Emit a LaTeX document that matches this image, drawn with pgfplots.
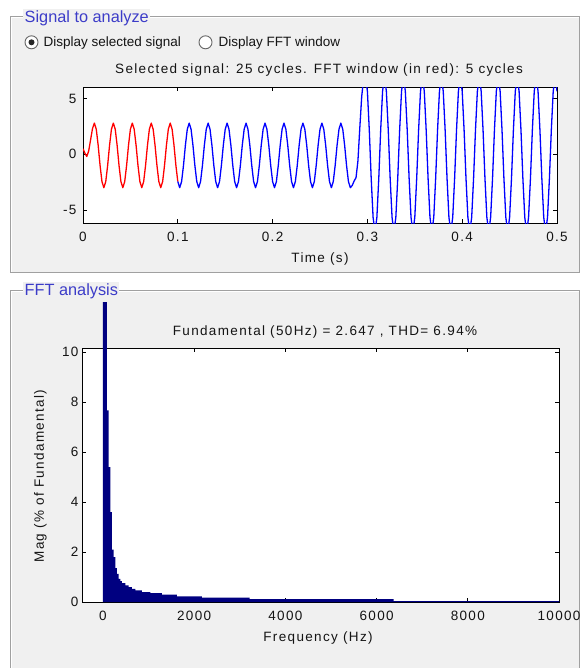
\documentclass[border=0pt]{standalone}
\usepackage{fontspec}
\setmainfont{Liberation Sans}
\newfontfamily\axfont[LetterSpace=10]{Liberation Sans}
\usepackage{pgfplots}
\pgfplotsset{compat=1.18}

\definecolor{panelbg}{RGB}{240,240,240}
\definecolor{framegray}{RGB}{160,160,160}
\definecolor{titleblue}{RGB}{60,60,200}
\definecolor{fftnavy}{RGB}{0,0,128}
\definecolor{txt}{RGB}{20,20,20}
\newcommand\axtext{\fontsize{13.5}{16}\selectfont\axfont}

\begin{document}
\begin{tikzpicture}
\path[use as bounding box] (0pt,0pt) rectangle (581pt,-668pt);

% window background and the two panels (coordinates in screen pixels)
\begin{scope}[x=1pt,y=-1pt]
\fill[white] (0,0) rectangle (581,668);
\fill[panelbg] (10,17) rectangle (579,272);
\draw[white, line width=1pt] (11,18) rectangle (580,273);
\draw[framegray, line width=1pt] (10,17) rectangle (579,272);
\clip (0,0) rectangle (581,668);
\fill[panelbg] (10,290) rectangle (579,700);
\draw[white, line width=1pt] (11,291) rectangle (580,701);
\draw[framegray, line width=1pt] (10,290) rectangle (579,700);
\end{scope}

% ---- signal to analyze ----
\begin{axis}[
  at={(83pt,-223.3pt)}, anchor=south west,
  scale only axis, width=474pt, height=135.8pt,
  xmin=0, xmax=0.5, ymin=-6.2, ymax=6.0,
  xtick={0,0.1,0.2,0.3,0.4,0.5}, xticklabels={0,0.1,0.2,0.3,0.4,0.5},
  ytick={-5,0,5}, yticklabels={-5,0,5},
  tick align=inside, major tick length=4pt,
  tick style={black, line width=0.8pt},
  axis line style={black, line width=1pt},
  ticklabel style={font=\axtext, text=txt},
  xticklabel style={anchor=base, yshift=-18.4pt},
  yticklabel style={xshift=-3pt},
  axis background/.style={fill=white},
]
% FFT window, first 5 cycles
\addplot[red, line width=1.3pt, line join=round] coordinates {
(0.000,0.5)(0.002,0.1)(0.004,-0.2)(0.006,0.3)(0.008,1.3)(0.010,2.3)
(0.012,2.8)(0.014,2.25)(0.016,0.8)(0.018,-1.0)(0.020,-2.45)
(0.022,-3.0)(0.024,-2.45)(0.026,-1.0)(0.028,0.8)(0.030,2.25)
(0.032,2.8)(0.034,2.25)(0.036,0.8)(0.038,-1.0)(0.040,-2.45)
(0.042,-3.0)(0.044,-2.45)(0.046,-1.0)(0.048,0.8)(0.050,2.25)
(0.052,2.8)(0.054,2.25)(0.056,0.8)(0.058,-1.0)(0.060,-2.45)
(0.062,-3.0)(0.064,-2.45)(0.066,-1.0)(0.068,0.8)(0.070,2.25)
(0.072,2.8)(0.074,2.25)(0.076,0.8)(0.078,-1.0)(0.080,-2.45)
(0.082,-3.0)(0.084,-2.45)(0.086,-1.0)(0.088,0.8)(0.090,2.25)
(0.092,2.8)(0.094,2.25)(0.096,0.8)(0.098,-1.0)(0.100,-2.45)
};
% rest of the selected signal
\addplot[blue, line width=1.3pt, line join=round] coordinates {
(0.100,-2.45)
(0.102,-3.0)(0.104,-2.45)(0.106,-1.0)(0.108,0.8)(0.110,2.25)(0.112,2.8)(0.114,2.25)(0.116,0.8)(0.118,-1.0)(0.120,-2.45)
(0.122,-3.0)(0.124,-2.45)(0.126,-1.0)(0.128,0.8)(0.130,2.25)(0.132,2.8)(0.134,2.25)(0.136,0.8)(0.138,-1.0)(0.140,-2.45)
(0.142,-3.0)(0.144,-2.45)(0.146,-1.0)(0.148,0.8)(0.150,2.25)(0.152,2.8)(0.154,2.25)(0.156,0.8)(0.158,-1.0)(0.160,-2.45)
(0.162,-3.0)(0.164,-2.45)(0.166,-1.0)(0.168,0.8)(0.170,2.25)(0.172,2.8)(0.174,2.25)(0.176,0.8)(0.178,-1.0)(0.180,-2.45)
(0.182,-3.0)(0.184,-2.45)(0.186,-1.0)(0.188,0.8)(0.190,2.25)(0.192,2.8)(0.194,2.25)(0.196,0.8)(0.198,-1.0)(0.200,-2.45)
(0.202,-3.0)(0.204,-2.45)(0.206,-1.0)(0.208,0.8)(0.210,2.25)(0.212,2.8)(0.214,2.25)(0.216,0.8)(0.218,-1.0)(0.220,-2.45)
(0.222,-3.0)(0.224,-2.45)(0.226,-1.0)(0.228,0.8)(0.230,2.25)(0.232,2.8)(0.234,2.25)(0.236,0.8)(0.238,-1.0)(0.240,-2.45)
(0.242,-3.0)(0.244,-2.45)(0.246,-1.0)(0.248,0.8)(0.250,2.25)(0.252,2.8)(0.254,2.25)(0.256,0.8)(0.258,-1.0)(0.260,-2.45)
(0.262,-3.0)(0.264,-2.45)(0.266,-1.0)(0.268,0.8)(0.270,2.25)(0.272,2.8)(0.274,2.25)(0.276,0.8)(0.278,-1.0)(0.280,-2.45)
(0.282,-3.0)(0.284,-2.8)(0.286,-2.4)(0.288,-2.1)(0.290,-0.6)(0.292,2.4)(0.294,5.2)(0.296,6.8)
(0.298,7.0)(0.300,5.66)(0.302,2.16)(0.304,-2.16)(0.306,-5.66)(0.308,-7.0)(0.310,-5.66)(0.312,-2.16)(0.314,2.16)(0.316,5.66)
(0.318,7.0)(0.320,5.66)(0.322,2.16)(0.324,-2.16)(0.326,-5.66)(0.328,-7.0)(0.330,-5.66)(0.332,-2.16)(0.334,2.16)(0.336,5.66)
(0.338,7.0)(0.340,5.66)(0.342,2.16)(0.344,-2.16)(0.346,-5.66)(0.348,-7.0)(0.350,-5.66)(0.352,-2.16)(0.354,2.16)(0.356,5.66)
(0.358,7.0)(0.360,5.66)(0.362,2.16)(0.364,-2.16)(0.366,-5.66)(0.368,-7.0)(0.370,-5.66)(0.372,-2.16)(0.374,2.16)(0.376,5.66)
(0.378,7.0)(0.380,5.66)(0.382,2.16)(0.384,-2.16)(0.386,-5.66)(0.388,-7.0)(0.390,-5.66)(0.392,-2.16)(0.394,2.16)(0.396,5.66)
(0.398,7.0)(0.400,5.66)(0.402,2.16)(0.404,-2.16)(0.406,-5.66)(0.408,-7.0)(0.410,-5.66)(0.412,-2.16)(0.414,2.16)(0.416,5.66)
(0.418,7.0)(0.420,5.66)(0.422,2.16)(0.424,-2.16)(0.426,-5.66)(0.428,-7.0)(0.430,-5.66)(0.432,-2.16)(0.434,2.16)(0.436,5.66)
(0.438,7.0)(0.440,5.66)(0.442,2.16)(0.444,-2.16)(0.446,-5.66)(0.448,-7.0)(0.450,-5.66)(0.452,-2.16)(0.454,2.16)(0.456,5.66)
(0.458,7.0)(0.460,5.66)(0.462,2.16)(0.464,-2.16)(0.466,-5.66)(0.468,-7.0)(0.470,-5.66)(0.472,-2.16)(0.474,2.16)(0.476,5.66)
(0.478,7.0)(0.480,5.66)(0.482,2.16)(0.484,-2.16)(0.486,-5.66)(0.488,-7.0)(0.490,-5.66)(0.492,-2.16)(0.494,2.16)(0.496,5.66)
(0.498,7.0)(0.500,5.66)
};
\end{axis}

% ---- FFT analysis ----
\begin{axis}[
  at={(82pt,-602pt)}, anchor=south west,
  scale only axis, width=477pt, height=254pt,
  xmin=-460, xmax=10000, ymin=0, ymax=10.16,
  scaled x ticks=false, scaled y ticks=false,
  xtick={0,2000,4000,6000,8000,10000}, xticklabels={0,2000,4000,6000,8000,10000},
  ytick={0,2,4,6,8,10}, yticklabels={0,2,4,6,8,10},
  tick align=inside, major tick length=4pt,
  tick style={black, line width=0.8pt},
  axis line style={black, line width=1pt},
  ticklabel style={font=\axtext, text=txt},
  xticklabel style={anchor=base, yshift=-18pt},
  axis background/.style={fill=white},
  clip=false,
]
% magnitude in % of fundamental, read per frequency band (Hz)
\addplot[const plot, fill=fftnavy, draw=none] coordinates {
(0,12.0)(87,7.67)(123,5.4)(160,3.6)(197,2.1)(233,1.8)(270,1.36)(306,1.13)
(343,0.93)(379,0.84)(416,0.76)(489,0.67)(562,0.6)(635,0.53)(708,0.47)
(855,0.4)(1037,0.36)(1293,0.3)(1622,0.23)(2171,0.18)(3215,0.12)
(6373,0.04)(10000,0.04)
} \closedcycle;
\end{axis}

% ---- texts and controls ----
\begin{scope}[x=1pt,y=-1pt]
\node[fill=panelbg, inner sep=1.5pt, anchor=west, text=titleblue,
      font=\fontsize{16.3}{18}\selectfont] at (23,18.5) {Signal to analyze};
\node[fill=panelbg, inner sep=1.5pt, anchor=west, text=titleblue,
      font=\fontsize{16.3}{18}\selectfont] at (23,291) {FFT analysis};

\filldraw[fill=white, draw=black!60, line width=0.9pt] (31.5,42.3) circle (6.5);
\fill[black!85] (31.5,42.3) circle (3);
\filldraw[fill=white, draw=black!60, line width=0.9pt] (205.5,42.3) circle (6.5);
\node[anchor=base west, inner sep=0, text=txt, font=\fontsize{13.5}{15}\selectfont]
  at (43.5,47) {Display selected signal};
\node[anchor=base west, inner sep=0, text=txt, font=\fontsize{13.5}{15}\selectfont]
  at (218.5,47) {Display FFT window};

\node[anchor=base, inner sep=0, text=txt, font=\axtext] at (319,74)
  {Selected signal: 25 cycles. FFT window (in red): 5 cycles};
\node[anchor=base, inner sep=0, text=txt, font=\axtext] at (320,262.5) {Time (s)};

\node[anchor=base, inner sep=0, text=txt, font=\axtext] at (325,335)
  {Fundamental (50Hz) = 2.647 , THD= 6.94\%};
\node[anchor=base, inner sep=0, text=txt, font=\axtext] at (318,641) {Frequency (Hz)};
\node[rotate=90, inner sep=0, text=txt, font=\axtext] at (40.5,476)
  {Mag (\% of Fundamental)};
\end{scope}
\end{tikzpicture}
\end{document}
